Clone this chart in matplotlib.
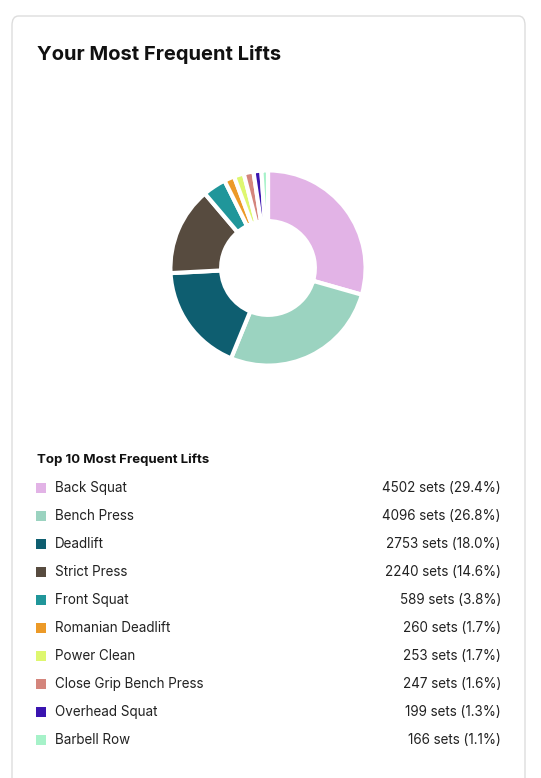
import matplotlib
matplotlib.use("Agg")
import matplotlib.pyplot as plt
from matplotlib.patches import FancyBboxPatch, Rectangle

lifts = ["Back Squat","Bench Press","Deadlift","Strict Press","Front Squat","Romanian Deadlift",
         "Power Clean","Close Grip Bench Press","Overhead Squat","Barbell Row"]
sets = [4502,4096,2753,2240,589,260,253,247,199,166]
pcts = ["29.4%","26.8%","18.0%","14.6%","3.8%","1.7%","1.7%","1.6%","1.3%","1.1%"]
colors = ["#e2b3e6","#9bd3c0","#0e5e70","#574b3f","#20969a","#ec9a28",
          "#def76f","#d4857c","#3a14b0","#a6f2c9"]

W, H = 541, 778
fig = plt.figure(figsize=(W/100, H/100), dpi=100)
fig.patch.set_facecolor("white")

def fx(x): return x / W
def fy(y): return 1 - y / H

card = FancyBboxPatch((fx(12), fy(800)), fx(513), (800-16)/H,
                      boxstyle="round,pad=0,rounding_size=0.012",
                      transform=fig.transFigure, facecolor="white",
                      edgecolor="#dddddd", linewidth=1, zorder=-10)
fig.patches.append(card)

fig.text(fx(37), fy(54), "Your Most Frequent Lifts", fontsize=14.5, fontweight="bold",
         color="#111111", va="center", family="Inter")

cx, cy, R = 268, 268, 122
ax = fig.add_axes([fx(cx-R), fy(cy+R), 2*R/W, 2*R/H], zorder=5)
ax.pie(sets, colors=colors, startangle=90, counterclock=False,
       wedgeprops=dict(width=0.52, edgecolor="white", linewidth=3))
ax.set_aspect("equal")

fig.text(fx(37), fy(460), "Top 10 Most Frequent Lifts", fontsize=9.5, fontweight="bold",
         color="#111111", va="center", family="Inter")
for i, (n, s, p, c) in enumerate(zip(lifts, sets, pcts, colors)):
    y = 488 + 28*i
    fig.patches.append(Rectangle((fx(36), fy(y+5)), fx(10), 10/H,
                                 transform=fig.transFigure, facecolor=c, edgecolor="none"))
    fig.text(fx(55), fy(y), n, fontsize=9.7, color="#222222", va="center", family="Inter")
    fig.text(fx(501), fy(y), f"{s} sets ({p})", fontsize=9.7, color="#222222",
             va="center", ha="right", family="Inter")

fig.savefig("out.png", dpi=100)
